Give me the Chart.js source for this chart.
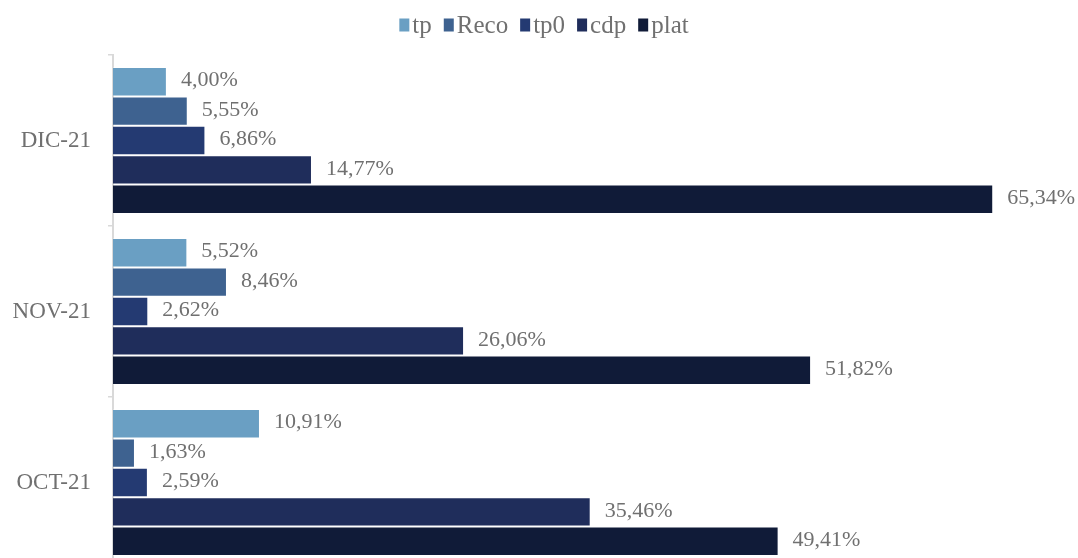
<!DOCTYPE html>
<html>
<head>
<meta charset="utf-8">
<title>tp / Reco / tp0 / cdp / plat</title>
<script src="https://cdn.jsdelivr.net/npm/chart.js@4"></script>
<style>
  html, body { margin: 0; padding: 0; background: #fff; overflow: hidden; }
  canvas { display: block; }
</style>
</head>
<body>
<canvas id="chart" width="1078" height="568"></canvas>
<script>
// months, newest first
const categories = ['DIC-21', 'NOV-21', 'OCT-21']

// share per month, in %
const tp = [4.00, 5.52, 10.91]
const reco = [5.55, 8.46, 1.63]
const tp0 = [6.86, 2.62, 2.59]
const cdp = [14.77, 26.06, 35.46]
const plat = [65.34, 51.82, 49.41]

const seriesNames = ['tp', 'Reco', 'tp0', 'cdp', 'plat']
const seriesColors = ['#6a9fc3', '#3e6290', '#243a72', '#1f2d5b', '#101b38']

const textGray = '#707070'
const serif = '"Liberation Serif", "Times New Roman", serif'

// ------------------------
// PLUGINS
// ------------------------

// value at the end of every bar, Spanish decimal comma
const barValues = {
  id: 'barValues',
  afterDatasetsDraw(chart) {
    const ctx = chart.ctx
    ctx.save()
    ctx.font = '22px ' + serif
    ctx.fillStyle = textGray
    ctx.textAlign = 'left'
    ctx.textBaseline = 'middle'
    chart.data.datasets.forEach((ds, i) => {
      chart.getDatasetMeta(i).data.forEach((bar, j) => {
        const txt = ds.data[j].toFixed(2).replace('.', ',') + '%'
        ctx.fillText(txt, bar.x + 14, bar.y - 1)
      })
    })
    ctx.restore()
  }
}

// legend row on top: small square, tight text
const topLegend = {
  id: 'topLegend',
  afterDraw(chart) {
    const ctx = chart.ctx
    ctx.save()
    ctx.font = '25px ' + serif
    const boxW = 10, boxH = 13, gapText = 3, gapItem = 12
    const items = chart.data.datasets.map(ds => ({
      label: ds.label,
      color: ds.backgroundColor,
      w: boxW + gapText + ctx.measureText(ds.label).width
    }))
    const total = items.reduce((s, it) => s + it.w, 0) + gapItem * (items.length - 1)
    let x = chart.width / 2 - total / 2 + 5
    const y = 26
    items.forEach(it => {
      ctx.fillStyle = it.color
      ctx.fillRect(x, y - boxH / 2 - 1, boxW, boxH)
      ctx.fillStyle = textGray
      ctx.textAlign = 'left'
      ctx.textBaseline = 'middle'
      ctx.fillText(it.label, x + boxW + gapText, y)
      x += it.w + gapItem
    })
    ctx.restore()
  }
}

// ------------------------
// BAR CHART
// ------------------------

const seriesValues = [tp, reco, tp0, cdp, plat]

const barData = {
  labels: categories,
  datasets: seriesNames.map((name, i) => ({
    label: name,
    data: seriesValues[i],
    backgroundColor: seriesColors[i],
    borderColor: 'rgba(255, 255, 255, 0.28)',
    borderWidth: 1,
    categoryPercentage: 0.86,
    barPercentage: 1
  }))
}

const barOptions = {
  indexAxis: 'y',
  responsive: false,
  maintainAspectRatio: false,
  animation: false,
  devicePixelRatio: 1,
  layout: {
    padding: { top: 55, right: 22, bottom: 0, left: 0 }
  },
  scales: {
    x: {
      display: false,
      min: 0,
      max: 70
    },
    y: {
      grid: {
        drawOnChartArea: false,
        drawTicks: true,
        tickLength: 5,
        color: '#d9d9d9',
        lineWidth: 1.5
      },
      border: {
        display: true,
        color: '#d9d9d9',
        width: 2
      },
      ticks: {
        color: textGray,
        padding: 17,
        font: { family: serif, size: 23 }
      },
      afterFit(scale) {
        // fixed axis width, and no extra room under the last category
        scale.width = 113
        scale.paddingTop = 0
        scale.paddingBottom = 0
      }
    }
  },
  plugins: {
    legend: { display: false },
    tooltip: { enabled: false }
  }
}

let barChart = new Chart(document.querySelector('#chart'), {
  type: 'bar',
  data: barData,
  options: barOptions,
  plugins: [barValues, topLegend]
})
</script>
</body>
</html>
